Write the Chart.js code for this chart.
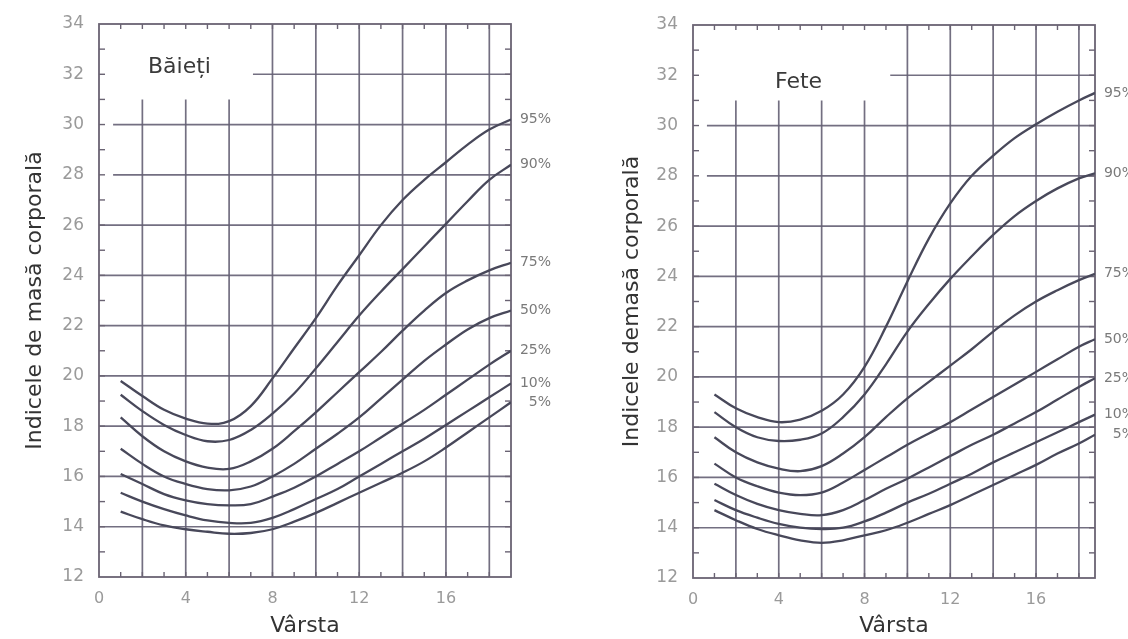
<!DOCTYPE html>
<html>
<head>
<meta charset="utf-8">
<script src="https://cdn.jsdelivr.net/npm/chart.js@4"></script>
<style>
    body { margin: 0; background: #fff; }
    #wrap { position: relative; width: 1128px; height: 639px; overflow: hidden; }
    canvas { position: absolute; top: 0; }
    #boysChart { left: 0; }
    #girlsChart { left: 564px; }
</style>
</head>
<body>
<div id="wrap">
    <canvas id="boysChart" width="564" height="639"></canvas>
    <canvas id="girlsChart" width="564" height="639"></canvas>
</div>
<script>
// ---------------- Data ----------------
const percentileLabels = ["95%", "90%", "75%", "50%", "25%", "10%", "5%"];

const xTickValues = [0, 4, 8, 12, 16];
const yTickValues = [12, 14, 16, 18, 20, 22, 24, 26, 28, 30, 32, 34];

const boysAge = [1, 2, 3, 4, 5, 6, 7, 8, 9, 10, 11, 12, 13, 14, 15, 16, 17, 18, 19];
const boysP95 = [19.8, 19.2, 18.65, 18.3, 18.1, 18.2, 18.8, 19.9, 21.1, 22.3, 23.6, 24.8, 26.0, 27.0, 27.8, 28.5, 29.2, 29.8, 30.2];
const boysP90 = [19.25, 18.6, 18.05, 17.65, 17.4, 17.45, 17.85, 18.5, 19.3, 20.3, 21.35, 22.4, 23.35, 24.25, 25.15, 26.05, 26.95, 27.8, 28.4];
const boysP75 = [18.35, 17.6, 17.0, 16.6, 16.35, 16.3, 16.6, 17.1, 17.8, 18.55, 19.35, 20.15, 20.95, 21.8, 22.6, 23.3, 23.8, 24.2, 24.5];
const boysP50 = [17.1, 16.5, 16.0, 15.7, 15.5, 15.45, 15.6, 16.0, 16.5, 17.1, 17.7, 18.35, 19.1, 19.85, 20.6, 21.25, 21.85, 22.3, 22.6];
const boysP25 = [16.1, 15.7, 15.3, 15.05, 14.9, 14.85, 14.9, 15.2, 15.55, 16.0, 16.5, 17.0, 17.55, 18.1, 18.65, 19.25, 19.85, 20.45, 21.0];
const boysP10 = [15.35, 15.0, 14.7, 14.45, 14.25, 14.15, 14.15, 14.35, 14.7, 15.1, 15.5, 16.0, 16.5, 17.0, 17.5, 18.05, 18.6, 19.15, 19.7];
const boysP5  = [14.6, 14.3, 14.05, 13.9, 13.8, 13.72, 13.75, 13.9, 14.2, 14.55, 14.95, 15.35, 15.75, 16.15, 16.6, 17.15, 17.75, 18.35, 18.95];

const girlsAge = [1, 2, 3, 4, 5, 6, 7, 8, 9, 10, 11, 12, 13, 14, 15, 16, 17, 18, 18.75];
const girlsP95 = [19.3, 18.75, 18.4, 18.2, 18.3, 18.65, 19.3, 20.4, 22.0, 23.8, 25.5, 26.9, 28.0, 28.8, 29.5, 30.05, 30.55, 31.0, 31.3];
const girlsP90 = [18.6, 18.0, 17.6, 17.45, 17.5, 17.75, 18.4, 19.3, 20.5, 21.8, 22.9, 23.9, 24.8, 25.65, 26.4, 27.0, 27.5, 27.9, 28.1];
const girlsP75 = [17.6, 17.0, 16.6, 16.35, 16.25, 16.45, 16.95, 17.6, 18.4, 19.15, 19.8, 20.45, 21.1, 21.8, 22.45, 23.0, 23.45, 23.85, 24.1];
const girlsP50 = [16.55, 16.0, 15.65, 15.4, 15.3, 15.4, 15.8, 16.3, 16.8, 17.3, 17.75, 18.2, 18.7, 19.2, 19.7, 20.2, 20.7, 21.2, 21.5];
const girlsP25 = [15.75, 15.3, 14.95, 14.7, 14.55, 14.5, 14.7, 15.1, 15.55, 15.95, 16.4, 16.85, 17.3, 17.7, 18.15, 18.6, 19.1, 19.6, 19.95];
const girlsP10 = [15.1, 14.7, 14.4, 14.15, 14.0, 13.95, 14.0, 14.25, 14.6, 15.0, 15.35, 15.75, 16.15, 16.6, 17.0, 17.4, 17.8, 18.2, 18.5];
const girlsP5  = [14.7, 14.3, 13.95, 13.7, 13.5, 13.4, 13.5, 13.7, 13.9, 14.2, 14.55, 14.9, 15.3, 15.7, 16.1, 16.5, 16.95, 17.35, 17.7];


// ---------------- Plugins ----------------
const frameColor = "#6a6373";
const gridColor = "rgba(100,95,115,0.9)";

const framePlugin = {
    id: "frame",
    beforeDatasetsDraw(chart, args, o) {
        const { ctx, chartArea: a, scales: { x, y } } = chart;
        const px = v => x.getPixelForValue(v);
        const py = v => y.getPixelForValue(v);
        const seg = (x1, y1, x2, y2) => {
            ctx.beginPath();
            ctx.moveTo(x1, y1);
            ctx.lineTo(x2, y2);
            ctx.stroke();
        };

        ctx.save();
        ctx.strokeStyle = gridColor;
        ctx.lineWidth = 1.7;

        // horizontal grid
        for (let v = 14; v <= 32; v += 2) {
            let from = x.min;
            if (v === 32) from = o.topLineFrom;
            else if (v >= 28) from = 0.65;
            seg(px(from), py(v), a.right, py(v));
        }

        // vertical grid
        for (let v = 2; v < x.max; v += 2) {
            const top = v <= o.shortUpTo ? 31 : y.max;
            seg(px(v), a.bottom, px(v), py(top));
        }

        // border
        ctx.strokeStyle = frameColor;
        ctx.lineWidth = 1.8;
        ctx.strokeRect(a.left, a.top, a.right - a.left, a.bottom - a.top);

        // minor ticks
        ctx.lineWidth = 1.4;
        for (let v = y.min + 1; v < y.max; v++) {
            seg(a.left, py(v), a.left + 6, py(v));
            seg(a.right, py(v), a.right - 6, py(v));
        }
        for (let v = 1; v < x.max; v++) {
            seg(px(v), a.bottom, px(v), a.bottom - 5);
            seg(px(v), a.top, px(v), a.top + 5);
        }
        ctx.restore();
    },
    afterDatasetsDraw(chart, args, o) {
        const { ctx, chartArea: a } = chart;
        ctx.save();

        // percentile labels at the end of each curve
        ctx.font = "14px 'DejaVu Sans'";
        ctx.fillStyle = "#7a7a7a";
        ctx.textAlign = "right";
        ctx.textBaseline = "middle";
        chart.data.datasets.forEach((ds, i) => {
            const pts = chart.getDatasetMeta(i).data;
            const last = pts[pts.length - 1];
            ctx.fillText(ds.label, a.right + 40, last.y);
        });

        // panel title
        ctx.font = "22px 'DejaVu Sans'";
        ctx.fillStyle = "#3a3a3a";
        ctx.textAlign = "left";
        ctx.textBaseline = "alphabetic";
        ctx.fillText(o.title, a.left + o.titleDx, o.titleY);
        ctx.restore();
    }
};


// ---------------- Create Chart ----------------
function makeChart(canvasId, ages, series, opts) {

    const ctx = document.getElementById(canvasId).getContext("2d");

    const datasets = series.map((values, i) => ({
        label: percentileLabels[i],
        data: ages.map((a, j) => ({ x: a, y: values[j] })),
        borderColor: "#48485a",
        borderWidth: 2.3,
        pointRadius: 0,
        tension: 0.4,
        fill: false
    }));

    return new Chart(ctx, {
        type: "line",
        data: { datasets: datasets },
        plugins: [framePlugin],
        options: {
            responsive: false,
            animation: false,
            layout: {
                padding: { left: opts.padLeft, top: opts.padTop, right: opts.padRight, bottom: 0 }
            },
            scales: {
                x: {
                    type: "linear",
                    min: 0,
                    max: opts.xMax,
                    afterBuildTicks: s => { s.ticks = xTickValues.map(v => ({ value: v })); },
                    afterFit: s => { s.height = 639 - opts.areaBottom; },
                    grid: { display: false },
                    border: { display: false },
                    ticks: {
                        padding: 4,
                        color: "#9a9a9a",
                        font: { family: "'DejaVu Sans'", size: 16 }
                    },
                    title: {
                        display: true,
                        text: "Vârsta",
                        color: "#333",
                        padding: { top: 0, bottom: 0 },
                        font: { family: "'DejaVu Sans'", size: 22 }
                    }
                },
                y: {
                    min: 12,
                    max: 34,
                    afterBuildTicks: s => { s.ticks = yTickValues.map(v => ({ value: v })); },
                    afterFit: s => { s.width = opts.yWidth; },
                    grid: { display: false },
                    border: { display: false },
                    ticks: {
                        padding: 7,
                        color: "#9a9a9a",
                        font: { family: "'DejaVu Sans'", size: 17 }
                    },
                    title: {
                        display: true,
                        text: opts.yTitle,
                        color: "#333",
                        padding: { top: 0, bottom: 0 },
                        font: { family: "'DejaVu Sans'", size: 22 }
                    }
                }
            },
            plugins: {
                legend: { display: false },
                tooltip: { enabled: false },
                frame: opts.frame
            }
        }
    });
}


document.addEventListener("DOMContentLoaded", () => {

    makeChart("boysChart", boysAge,
        [boysP95, boysP90, boysP75, boysP50, boysP25, boysP10, boysP5], {
            xMax: 19,
            padLeft: 22,
            yWidth: 77,
            padTop: 24,
            padRight: 53,
            areaBottom: 577,
            yTitle: "Indicele de masă corporală",
            frame: { title: "Băieți", titleDx: 49, titleY: 73, topLineFrom: 7.1, shortUpTo: 6 }
        });

    makeChart("girlsChart", girlsAge,
        [girlsP95, girlsP90, girlsP75, girlsP50, girlsP25, girlsP10, girlsP5], {
            xMax: 18.75,
            padLeft: 55,
            yWidth: 74,
            padTop: 25,
            padRight: 33,
            areaBottom: 578,
            yTitle: "Indicele demasă corporală",
            frame: { title: "Fete", titleDx: 82, titleY: 88, topLineFrom: 9.2, shortUpTo: 8 }
        });

});
</script>
</body>
</html>
